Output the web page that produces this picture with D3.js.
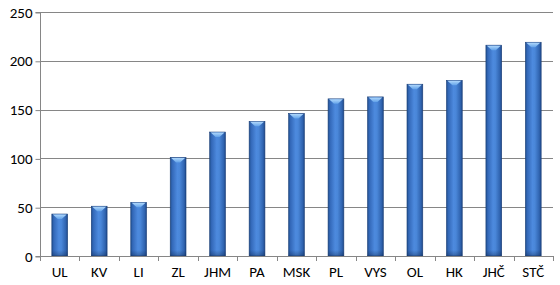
<!DOCTYPE html>
<html><head><meta charset="utf-8">
<script src="https://cdn.jsdelivr.net/npm/d3@7"></script>
<style>body{margin:0;background:#fff}svg{display:block}text{font-family:Calibri,Carlito,"Open Sans",sans-serif}</style>
</head><body><svg id="c" width="560" height="285"></svg>
<script>
const categories = ["UL","KV","LI","ZL","JHM","PA","MSK","PL","VYS","OL","HK","JHČ","STČ"];
const values = [43,51,55,101,127,138,146,161,163,176,180,216,219];
const yTicks = [0,50,100,150,200,250];

const svg = d3.select("#c");
const m = {left:40, right:7, top:12, bottom:29};
const W = 560, H = 285;
const x = d3.scaleBand().domain(categories).range([m.left, W - m.right]).paddingInner(0.6).paddingOuter(0.3);
const y = d3.scaleLinear().domain([0,250]).range([H - m.bottom, m.top]);
const grey = "#868686";

const defs = svg.append("defs");
const g1 = defs.append("linearGradient").attr("id","bar").attr("x1","0").attr("x2","1").attr("y1","0").attr("y2","0");
[[0,"#20508f"],[0.12,"#3368b8"],[0.45,"#4d8ade"],[0.6,"#4a87d9"],[0.88,"#3064b0"],[1,"#1e4888"]].forEach(([o,c])=>g1.append("stop").attr("offset",o).attr("stop-color",c));
const g2 = defs.append("linearGradient").attr("id","cap").attr("x1","0").attr("x2","0").attr("y1","0").attr("y2","1");
[[0,"#b0d8fc"],[1,"#62a2e8"]].forEach(([o,c])=>g2.append("stop").attr("offset",o).attr("stop-color",c));
const g3 = defs.append("linearGradient").attr("id","shade").attr("x1","0").attr("x2","0").attr("y1","0").attr("y2","1");
[[0,"#0a1e40",0],[1,"#0a1e40",0.35]].forEach(([o,c,a])=>g3.append("stop").attr("offset",o).attr("stop-color",c).attr("stop-opacity",a));

// grid
svg.append("g").selectAll("line").data(yTicks.slice(1)).join("line")
  .attr("x1", m.left).attr("x2", W - m.right)
  .attr("y1", d=>Math.round(y(d))+0.5).attr("y2", d=>Math.round(y(d))+0.5)
  .attr("stroke", grey).attr("stroke-width",1);

// y axis
const ya = svg.append("g").attr("transform",`translate(${m.left+0.5},0)`)
  .call(d3.axisLeft(y).tickValues(yTicks).tickSize(5).tickPadding(3).tickFormat(d3.format("d")));
ya.select(".domain").attr("stroke",grey).attr("d",`M-5,${Math.round(y(250))+0.5}H0V${Math.round(y(0))+0.5}H-5`);
ya.selectAll(".tick line").attr("stroke",grey).attr("transform","translate(0,0.5)");
ya.selectAll(".tick text").attr("font-size",15).attr("fill","#000").attr("dy","0.34em");

// bars
const bw = x.bandwidth();
const bars = svg.append("g").selectAll("g").data(categories.map((c,i)=>({c,v:values[i]}))).join("g");
bars.append("rect")
  .attr("x", d=>x(d.c)).attr("y", d=>y(d.v)).attr("width", bw).attr("height", d=>y(0)-y(d.v))
  .attr("fill","url(#bar)").attr("stroke","#1b3f78").attr("stroke-width",0.6);
bars.append("rect")
  .attr("x", d=>x(d.c)).attr("y", y(0)-6).attr("width", bw).attr("height", 6)
  .attr("fill","url(#shade)");
bars.append("path")
  .attr("d", d=>{const x0=x(d.c), y0=y(d.v); return `M${x0+1},${y0+0.5}H${x0+bw-1}L${x0+bw/2+2},${y0+5}H${x0+bw/2-2}Z`;})
  .attr("fill","url(#cap)");

// x axis
const step = x.step();
const xa = svg.append("g");
xa.append("line").attr("x1",m.left).attr("x2",W-m.right).attr("y1",Math.round(y(0))+0.5).attr("y2",Math.round(y(0))+0.5).attr("stroke",grey);
const bounds = d3.range(categories.length+1).map(i=>m.left + i*step);
xa.selectAll("line.t").data(bounds).join("line").attr("class","t")
  .attr("x1",d=>Math.round(d)+0.5).attr("x2",d=>Math.round(d)+0.5)
  .attr("y1",Math.round(y(0))).attr("y2",Math.round(y(0))+5).attr("stroke",grey);
xa.selectAll("text").data(categories).join("text")
  .attr("x", d=>x(d)+bw/2).attr("y", y(0)+21).attr("text-anchor","middle")
  .attr("font-size",15).attr("fill","#000").text(d=>d);
</script></body></html>
